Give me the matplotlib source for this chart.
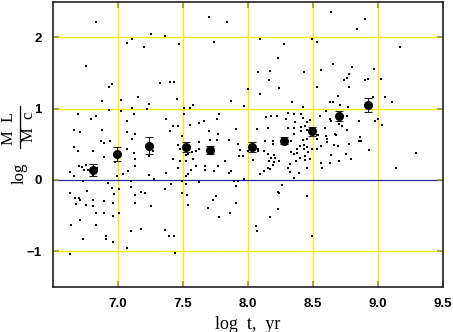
import matplotlib
matplotlib.use("Agg")
import matplotlib.pyplot as plt
from matplotlib.lines import Line2D

# Scatter of individual objects (log t, log ML/Mc)
dot_x = [
    6.83, 7.25, 7.36, 7.07, 7.11, 7.20, 7.47, 7.70, 7.84, 7.74, 6.75, 6.93, 6.95, 7.32, 7.40, 7.43,
    8.64, 8.90, 8.84, 8.09, 8.28, 8.49, 8.53, 9.17, 8.23, 8.65, 8.80, 8.08, 8.17, 8.43, 8.56, 8.97,
    8.78, 8.76, 8.74, 8.90, 8.92, 9.02, 8.16, 8.53, 8.78, 8.00, 8.24, 8.09, 8.69, 8.96, 9.05,
    6.88, 7.02, 7.15, 7.24, 7.45, 6.93, 7.02, 7.11, 7.22, 6.69, 6.79, 6.83, 7.12, 7.07, 7.37, 7.42,
    7.46, 6.66, 6.71, 6.88, 7.07, 7.13, 7.40, 7.49, 7.11, 6.87, 6.89, 6.94, 6.66, 6.69, 6.81, 7.07,
    7.46, 7.48, 7.27, 7.24, 7.12, 6.89, 7.13, 7.42, 7.48, 6.98, 6.70, 6.72, 6.75, 6.74, 6.77, 6.84,
    6.81, 7.13, 7.08, 7.04, 7.24, 7.46, 7.37, 6.63, 6.66, 6.73, 6.92, 6.99, 7.10, 7.28, 7.41, 7.49,
    7.87, 7.58, 7.55, 7.51, 7.97, 8.34, 8.42, 8.31, 8.35, 8.41, 8.14, 8.18, 8.22, 7.78, 7.76, 7.51,
    7.62, 7.66, 7.55, 8.42, 8.29, 8.45, 8.48, 8.36, 8.31, 8.07, 8.15, 7.91, 7.70, 8.41, 8.41, 8.44,
    8.45, 8.35, 8.35, 7.77, 7.71, 7.76, 7.85, 8.13, 8.19, 8.19, 8.33, 8.42, 8.45, 7.62, 7.92, 8.38,
    8.40, 8.43, 8.45, 8.49, 7.62, 7.60, 7.57, 7.54, 7.52, 7.94, 8.08, 8.12, 8.00, 8.08, 8.15, 8.20,
    8.18, 8.21, 8.33, 8.35, 8.38, 8.43, 8.46, 8.44, 7.52, 7.58, 7.82, 7.93, 7.96, 8.04, 8.16, 8.20,
    8.24, 8.32, 8.31, 8.37, 8.40, 8.44, 8.48, 8.19, 8.17, 8.15, 7.60, 7.67, 7.77, 7.67, 7.87, 7.85,
    7.74, 7.56, 7.52, 7.54, 8.09, 8.12, 8.39, 8.45, 8.32, 8.35, 7.97, 7.89, 7.92, 7.62, 7.52, 8.26,
    9.11, 8.63, 8.65, 8.71, 8.77, 8.60, 8.55, 8.63, 8.64, 8.76, 8.85, 8.98, 9.00, 9.03, 8.70, 8.72,
    8.59, 8.76, 8.51, 8.51, 8.53, 8.54, 8.67, 8.68, 8.60, 8.61, 8.86, 8.85, 8.87, 8.53, 8.61, 8.66,
    8.69, 8.78, 8.56, 8.53, 8.93, 8.75, 8.64, 8.79, 8.56, 8.63, 8.70, 8.57, 9.29, 9.14,
    6.63, 6.67, 6.70, 6.71, 6.68, 6.76, 6.75, 6.81, 6.81, 6.83, 6.89, 6.89, 6.95, 6.96, 6.97, 7.01,
    6.96, 7.01, 7.10, 7.13, 7.13, 7.18, 7.21, 7.25, 6.64, 6.83, 6.71, 6.73, 6.91, 6.91, 6.96, 7.10,
    7.18, 7.07, 6.63, 7.36, 7.36, 7.39, 7.43, 7.44, 7.49, 7.53, 7.54, 7.69, 7.75, 7.73, 7.78, 7.86,
    7.91, 7.91, 8.06, 8.07, 8.17, 8.23, 8.23, 8.24, 8.45, 8.49,
]
dot_y = [
    2.21, 2.04, 2.02, 1.92, 1.97, 1.86, 1.91, 2.29, 2.21, 1.94, 1.60, 1.31, 1.35, 1.36, 1.37, 1.37,
    2.35, 2.26, 2.12, 1.97, 1.91, 1.98, 1.93, 1.86, 1.71, 1.62, 1.58, 1.52, 1.53, 1.52, 1.54, 1.55,
    1.48, 1.43, 1.40, 1.40, 1.42, 1.41, 1.40, 1.31, 1.31, 1.27, 1.29, 1.20, 1.18, 1.16, 1.16,
    1.11, 1.12, 1.16, 1.07, 1.13, 0.98, 0.96, 1.01, 1.00, 0.92, 0.86, 0.89, 0.92, 0.82, 0.86, 0.75,
    0.75, 0.70, 0.67, 0.70, 0.67, 0.65, 0.68, 0.62, 0.57, 0.54, 0.52, 0.54, 0.46, 0.41, 0.40, 0.44,
    0.49, 0.43, 0.40, 0.33, 0.38, 0.32, 0.30, 0.30, 0.26, 0.25, 0.19, 0.18, 0.21, 0.14, 0.14, 0.16,
    0.06, 0.19, 0.12, 0.08, 0.07, 0.16, 0.09, 0.11, 0.05, -0.02, -0.04, 0.06, -0.02, 0.01, -0.06, -0.01,
    1.10, 1.05, 1.01, 1.01, 1.03, 1.09, 1.02, 0.94, 0.93, 0.93, 0.88, 0.89, 0.89, 0.93, 0.86, 0.93,
    0.80, 0.82, 0.77, 0.87, 0.85, 0.81, 0.84, 0.81, 0.73, 0.72, 0.73, 0.71, 0.68, 0.69, 0.74, 0.75,
    0.70, 0.73, 0.65, 0.64, 0.56, 0.56, 0.56, 0.55, 0.54, 0.50, 0.55, 0.56, 0.58, 0.53, 0.50, 0.44,
    0.47, 0.49, 0.46, 0.44, 0.43, 0.40, 0.39, 0.37, 0.35, 0.42, 0.44, 0.40, 0.40, 0.40, 0.36, 0.35,
    0.31, 0.31, 0.39, 0.37, 0.38, 0.43, 0.39, 0.34, 0.26, 0.29, 0.26, 0.33, 0.33, 0.28, 0.26, 0.25,
    0.26, 0.23, 0.16, 0.26, 0.31, 0.28, 0.30, 0.21, 0.15, 0.16, 0.19, 0.20, 0.19, 0.14, 0.12, 0.09,
    0.13, 0.14, 0.06, 0.08, 0.08, 0.12, 0.10, 0.16, 0.11, 0.02, 0.01, -0.02, -0.02, -0.03, -0.06, -0.07,
    1.09, 1.09, 1.09, 1.05, 1.02, 0.96, 0.89, 0.85, 0.82, 0.90, 0.82, 0.82, 0.85, 0.77, 0.78, 0.75,
    0.73, 0.70, 0.72, 0.67, 0.63, 0.63, 0.65, 0.63, 0.61, 0.58, 0.60, 0.55, 0.55, 0.58, 0.53, 0.49,
    0.47, 0.51, 0.47, 0.44, 0.42, 0.37, 0.35, 0.29, 0.24, 0.24, 0.26, 0.17, 0.38, 0.17,
    -0.19, -0.26, -0.26, -0.28, -0.34, -0.15, -0.35, -0.28, -0.37, -0.47, -0.29, -0.47, -0.12, -0.32, -0.20, -0.47,
    -0.50, -0.13, -0.10, -0.21, -0.32, -0.17, -0.18, -0.36, -0.63, -0.63, -0.56, -0.83, -0.78, -0.83, -0.87, -0.72,
    -0.69, -0.95, -1.04, -0.13, -0.70, -0.79, -0.78, -1.02, -0.18, -0.21, -0.35, -0.40, -0.23, -0.28, -0.52, -0.46,
    -0.32, -0.09, -0.65, -0.72, -0.52, -0.41, -0.17, -0.18, -0.23, -0.79,
]

# Binned means with error bars
mean_x = [6.81, 6.99, 7.24, 7.52, 7.71, 8.03, 8.28, 8.49, 8.70, 8.92]
mean_y = [0.14, 0.36, 0.48, 0.46, 0.42, 0.46, 0.55, 0.68, 0.90, 1.05]
mean_err = [0.08, 0.10, 0.12, 0.07, 0.06, 0.075, 0.05, 0.06, 0.07, 0.10]

x_ticks = [7.0, 7.5, 8.0, 8.5, 9.0, 9.5]
x_ticklabels = ["7.0", "7.5", "8.0", "8.5", "9.0", "9.5"]
y_ticks = [-1, 0, 1, 2]
y_ticklabels = ["\u22121", "0", "1", "2"]
grid_x = [7.0, 7.5, 8.0, 8.5, 9.0]
grid_y = [-1, 1, 2]

plt.rcParams['font.family'] = ['Liberation Serif', 'DejaVu Serif']

fig = plt.figure(figsize=(4.53, 3.32), dpi=100)
ax = fig.add_axes([0.117, 0.136, 0.861, 0.859])

ax.set_xlim(6.5, 9.5)
ax.set_ylim(-1.5, 2.5)

for gx in grid_x:
    ax.axvline(gx, color='#f2f000', lw=1.0, zorder=1)
for gy in grid_y:
    ax.axhline(gy, color='#f2f000', lw=1.0, zorder=1)
ax.axhline(0, color='#2a2a9a', lw=0.9, zorder=1)

ax.plot(dot_x, dot_y, 's', color='black', ms=1.8, mew=0, zorder=3)
ax.errorbar(mean_x, mean_y, yerr=mean_err, fmt='o', color='black', ms=5.5,
            ecolor='#222222', elinewidth=0.8, capsize=3, capthick=0.8, zorder=4)

ax.set_xticks(x_ticks)
ax.set_xticklabels(x_ticklabels, fontsize=9.5, fontweight='bold', family='Liberation Sans')
ax.set_yticks(y_ticks)
ax.set_yticklabels(y_ticklabels, fontsize=9.5, fontweight='bold', family='Liberation Sans')
ax.tick_params(direction='in', length=4, width=1.2, color='#9a9a30',
               top=True, right=True)
ax.tick_params(axis='x', pad=8)
ax.tick_params(axis='y', pad=8)
for s in ax.spines.values():
    s.set_color('#222222')
    s.set_linewidth(1.2)

ax.set_xlabel('log  t,  yr', fontsize=13, labelpad=4)

# y-axis label: "log" followed by a stacked fraction M L / M c (rotated)
fig.text(0.044, 0.477, 'log', fontsize=12, rotation=90, ha='center', va='center')
fig.text(0.020, 0.614, 'M  L', fontsize=12, rotation=90, ha='center', va='center')
fig.text(0.063, 0.617, 'M  c', fontsize=12, rotation=90, ha='center', va='center')
fig.add_artist(Line2D([0.0450, 0.0450], [0.554, 0.681], transform=fig.transFigure,
                      color='black', lw=0.9))

fig.savefig('out.png', dpi=100)
